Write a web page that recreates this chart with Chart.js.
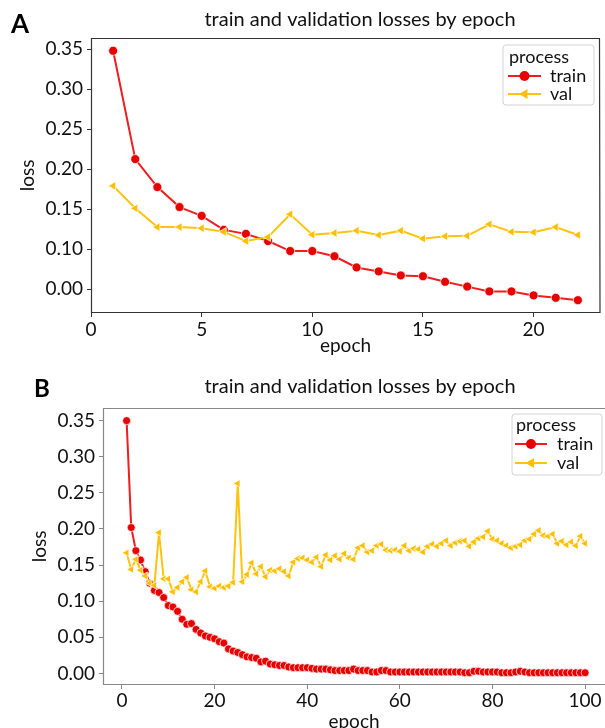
<!DOCTYPE html>
<html lang="en">
<head>
<meta charset="UTF-8">
<title>train and validation losses by epoch</title>
<script src="https://cdn.jsdelivr.net/npm/chart.js"></script>
<style>
  body { margin: 0; background: #fff; }
  .panel { position: absolute; left: 0; width: 605px; }
  #panelA { top: 0; height: 360px; }
  #panelB { top: 360px; height: 368px; }
  canvas { display: block; }
</style>
</head>
<body>
<div class="panel" id="panelA"><canvas id="chartA" width="605" height="360"></canvas></div>
<div class="panel" id="panelB"><canvas id="chartB" width="605" height="368"></canvas></div>
<script>
// panel A: 22 epochs (the lowest y tick is labelled 0.00 in the original figure)
const epochsA = [1,2,3,4,5,6,7,8,9,10,11,12,13,14,15,16,17,18,19,20,21,22];
const trainA = [0.348,0.2125,0.1775,0.1525,0.1415,0.124,0.119,0.110,0.0975,0.0975,0.091,
                0.077,0.072,0.067,0.066,0.059,0.053,0.047,0.047,0.042,0.039,0.036];
const valA = [0.179,0.151,0.1275,0.1275,0.126,0.1215,0.110,0.115,0.1435,0.118,0.120,
              0.123,0.1175,0.123,0.113,0.116,0.1165,0.131,0.1215,0.121,0.1275,0.1175];
const xTicksA = [0,5,10,15,20];
const yTicksA = [0.05,0.10,0.15,0.20,0.25,0.30,0.35];
const yLabelsA = ['0.00','0.10','0.15','0.20','0.25','0.30','0.35'];

// panel B: 100 epochs
const epochsB = Array.from({length: 100}, (_, i) => i + 1);
const trainB = [
  0.350,0.202,0.170,0.157,0.141,0.125,0.115,0.112,0.105,0.094,
  0.092,0.086,0.075,0.068,0.069,0.061,0.056,0.052,0.050,0.048,
  0.044,0.042,0.034,0.031,0.029,0.026,0.023,0.022,0.021,0.016,
  0.017,0.013,0.012,0.011,0.011,0.009,0.008,0.008,0.008,0.008,
  0.007,0.006,0.006,0.006,0.005,0.004,0.004,0.004,0.004,0.006,
  0.004,0.004,0.004,0.002,0.002,0.004,0.004,0.002,0.002,0.002,
  0.002,0.002,0.002,0.002,0.002,0.002,0.002,0.002,0.002,0.002,
  0.002,0.002,0.002,0.001,0.001,0.003,0.003,0.002,0.002,0.002,
  0.002,0.001,0.001,0.001,0.002,0.003,0.002,0.001,0.001,0.001,
  0.001,0.001,0.001,0.001,0.001,0.001,0.001,0.001,0.001,0.001];
const valB = [
  0.167,0.144,0.158,0.143,0.135,0.125,0.122,0.195,0.131,0.131,
  0.113,0.119,0.127,0.133,0.116,0.113,0.127,0.142,0.120,0.118,
  0.121,0.119,0.121,0.126,0.263,0.127,0.137,0.153,0.138,0.148,
  0.134,0.143,0.142,0.145,0.141,0.135,0.154,0.159,0.160,0.157,
  0.154,0.161,0.148,0.164,0.157,0.163,0.158,0.166,0.160,0.158,
  0.174,0.177,0.168,0.170,0.177,0.179,0.171,0.170,0.171,0.169,
  0.177,0.170,0.173,0.172,0.168,0.176,0.179,0.176,0.180,0.184,
  0.177,0.181,0.183,0.184,0.176,0.182,0.187,0.189,0.197,0.186,
  0.184,0.180,0.177,0.174,0.176,0.178,0.184,0.186,0.193,0.198,
  0.191,0.190,0.193,0.180,0.183,0.178,0.182,0.177,0.190,0.180];
const xTicksB = [0,20,40,60,80,100];
const yTicksB = [0,0.05,0.10,0.15,0.20,0.25,0.30,0.35];
const yLabelsB = ['0.00','0.05','0.10','0.15','0.20','0.25','0.30','0.35'];

const RED = '#e60000', RED_LINE = 'rgba(238,10,10,0.92)';
const GOLD = '#ffbf00', GOLD_LINE = 'rgba(255,192,0,0.95)';
const FONT = 'Lato';

// frame, panel letter, title and the "process" legend
const decor = {
  id: 'decor',
  afterDraw(chart, args, o) {
    const {ctx, chartArea: a} = chart;
    ctx.save();
    ctx.strokeStyle = o.frameColor;
    ctx.lineWidth = 1.2;
    ctx.beginPath();
    ctx.moveTo(a.right, a.top + 0.5);
    ctx.lineTo(a.left + 0.5, a.top + 0.5);
    ctx.lineTo(a.left + 0.5, a.bottom - 0.5);
    ctx.lineTo(a.right, a.bottom - 0.5);
    if (o.rightSide) ctx.lineTo(a.right - 0.5, a.top + 0.5);
    ctx.stroke();

    ctx.fillStyle = '#000';
    ctx.textAlign = 'left';
    ctx.textBaseline = 'alphabetic';
    ctx.font = 'bold ' + o.letterSize + 'px ' + FONT;
    ctx.fillText(o.letter, o.letterX, o.letterY);

    ctx.textAlign = 'center';
    ctx.textBaseline = 'middle';
    ctx.font = '20px ' + FONT;
    ctx.fillStyle = '#111';
    ctx.fillText('train and validation losses by epoch', o.titleX, o.titleY);

    const L = o.legend;
    ctx.beginPath();
    const r = 3;
    ctx.moveTo(L.x + r, L.y);
    ctx.arcTo(L.x + L.w, L.y, L.x + L.w, L.y + L.h, r);
    ctx.arcTo(L.x + L.w, L.y + L.h, L.x, L.y + L.h, r);
    ctx.arcTo(L.x, L.y + L.h, L.x, L.y, r);
    ctx.arcTo(L.x, L.y, L.x + L.w, L.y, r);
    ctx.closePath();
    ctx.fillStyle = 'rgba(255,255,255,0.85)';
    ctx.fill();
    ctx.strokeStyle = '#d4d4d4';
    ctx.lineWidth = 1;
    ctx.stroke();

    ctx.textAlign = 'left';
    ctx.fillStyle = '#111';
    ctx.font = '18px ' + FONT;
    ctx.fillText('process', L.textX0, L.rows[0]);
    const mid = (L.lineX0 + L.lineX1) / 2;
    // train row
    ctx.strokeStyle = RED_LINE;
    ctx.lineWidth = 2;
    ctx.beginPath(); ctx.moveTo(L.lineX0, L.rows[1]); ctx.lineTo(L.lineX1, L.rows[1]); ctx.stroke();
    ctx.fillStyle = RED;
    ctx.beginPath(); ctx.arc(mid, L.rows[1], 5, 0, Math.PI * 2); ctx.fill();
    // val row
    ctx.strokeStyle = GOLD_LINE;
    ctx.beginPath(); ctx.moveTo(L.lineX0, L.rows[2]); ctx.lineTo(L.lineX1, L.rows[2]); ctx.stroke();
    ctx.fillStyle = GOLD;
    ctx.beginPath();
    ctx.moveTo(mid - 5.5, L.rows[2]);
    ctx.lineTo(mid + 3, L.rows[2] - 5);
    ctx.lineTo(mid + 3, L.rows[2] + 5);
    ctx.closePath(); ctx.fill();
    ctx.fillStyle = '#111';
    ctx.fillText('train', L.textX, L.rows[1]);
    ctx.fillText('val', L.textX, L.rows[2]);
    ctx.restore();
  }
};

function lossChart(id, o) {
  const tickFont = {family: FONT, size: 19};
  const titleFont = {family: FONT, size: 19};
  return new Chart(document.getElementById(id), {
    type: 'line',
    data: {
      datasets: [
        {
          label: 'val',
          data: o.epochs.map((e, i) => ({x: e, y: o.val[i]})),
          borderColor: GOLD_LINE,
          borderWidth: 2,
          pointStyle: 'triangle',
          pointRotation: -90,
          pointRadius: o.triR,
          pointBackgroundColor: GOLD,
          pointBorderColor: 'rgba(255,255,255,0.9)',
          pointBorderWidth: 0.8,
          tension: 0,
          order: 0
        },
        {
          label: 'train',
          data: o.epochs.map((e, i) => ({x: e, y: o.train[i]})),
          borderColor: RED_LINE,
          borderWidth: 2,
          pointStyle: 'circle',
          pointRadius: o.dotR,
          pointBackgroundColor: RED,
          pointBorderColor: 'rgba(255,255,255,0.9)',
          pointBorderWidth: 0.8,
          tension: 0,
          order: 1
        }
      ]
    },
    options: {
      responsive: false,
      animation: false,
      events: [],
      layout: {autoPadding: false, padding: {top: o.top, right: o.right, left: 0, bottom: 0}},
      plugins: {
        legend: {display: false},
        tooltip: {enabled: false},
        decor: o.decor
      },
      scales: {
        x: {
          type: 'linear',
          min: o.xMin,
          max: o.xMax,
          afterBuildTicks: s => { s.ticks = o.xTicks.map(v => ({value: v})); },
          afterFit: s => { s.height = o.xAxisH; s.paddingLeft = 0; s.paddingRight = 0; },
          ticks: {font: tickFont, color: '#111', padding: o.xTickPad, maxRotation: 0, autoSkip: false,
                  callback: v => String(v)},
          grid: {drawOnChartArea: false, tickLength: 4, tickColor: o.decor.frameColor},
          border: {display: false},
          title: {display: true, text: 'epoch', color: '#111', font: titleFont,
                  padding: {top: 0, bottom: o.xTitlePad}}
        },
        y: {
          min: o.yMin,
          max: o.yMax,
          afterBuildTicks: s => { s.ticks = o.yTicks.map(v => ({value: v})); },
          afterFit: s => { s.width = o.yAxisW; },
          ticks: {font: tickFont, color: '#111', padding: 4, autoSkip: false,
                  callback: (v, i) => o.yLabels[i]},
          grid: {drawOnChartArea: false, tickLength: 4, tickColor: o.decor.frameColor},
          border: {display: false},
          title: {display: true, text: 'loss', color: '#111', font: titleFont,
                  padding: {top: o.yTitlePad, bottom: 0}}
        }
      }
    },
    plugins: [decor]
  });
}

lossChart('chartA', {
  epochs: epochsA, train: trainA, val: valA,
  xMin: 0, xMax: 23, xTicks: xTicksA,
  yMin: 0.02, yMax: 0.364, yTicks: yTicksA, yLabels: yLabelsA,
  top: 38, right: 5, xAxisH: 47, yAxisW: 91,
  xTickPad: 1, xTitlePad: 3, yTitlePad: 16,
  dotR: 4.5, triR: 5,
  decor: {
    frameColor: '#333', rightSide: true,
    letter: 'A', letterSize: 26, letterX: 11, letterY: 33,
    titleX: 360, titleY: 20,
    legend: {x: 503, y: 45, w: 91, h: 60, rows: [57, 76, 94],
             textX0: 509, lineX0: 508, lineX1: 541, textX: 550}
  }
});

lossChart('chartB', {
  epochs: epochsB, train: trainB, val: valB,
  xMin: -4.1, xMax: 104.3, xTicks: xTicksB,
  yMin: -0.016, yMax: 0.3675, yTicks: yTicksB, yLabels: yLabelsB,
  top: 48, right: 0, xAxisH: 43, yAxisW: 103,
  xTickPad: 0, xTitlePad: -5, yTitlePad: 28,
  dotR: 4, triR: 4.5,
  decor: {
    frameColor: '#888', rightSide: false,
    letter: 'B', letterSize: 24, letterX: 34, letterY: 37,
    titleX: 360, titleY: 27,
    legend: {x: 512, y: 54, w: 90, h: 61, rows: [65, 84, 103],
             textX0: 516, lineX0: 515, lineX1: 547, textX: 557}
  }
});
</script>
</body>
</html>
